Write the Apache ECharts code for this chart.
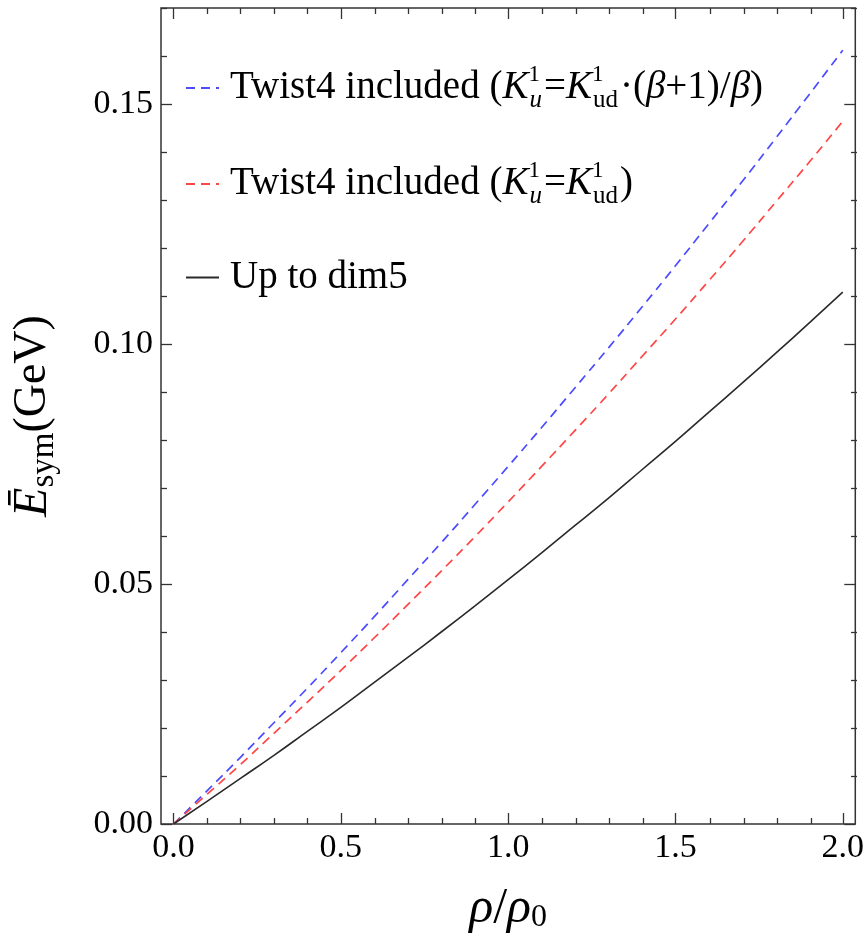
<!DOCTYPE html>
<html>
<head>
<meta charset="utf-8">
<script src="https://cdn.jsdelivr.net/npm/echarts@6/dist/echarts.min.js"></script>
<style>html,body{margin:0;padding:0;background:#fff}#c{width:867px;height:939px}</style>
</head>
<body>
<div id="c"></div>
<script>
// rho/rho0 sample points
const rho = [0,0.1,0.2,0.3,0.4,0.5,0.6,0.7,0.8,0.9,1.0,1.1,1.2,1.3,1.4,1.5,1.6,1.7,1.8,1.9,2.0];
// Twist4 included (K_u = K_ud (beta+1)/beta)  -- blue dashed
const twistBeta = [0,0.0069,0.0139,0.0211,0.0283,0.0357,0.0432,0.0509,0.0586,0.0665,0.0745,0.0826,0.0909,0.0992,0.1077,0.1163,0.1251,0.1339,0.1429,0.1520,0.1612];
// Twist4 included (K_u = K_ud)  -- red dashed
const twistEq = [0,0.0062,0.0124,0.0189,0.0254,0.0320,0.0388,0.0457,0.0527,0.0598,0.0671,0.0745,0.0820,0.0896,0.0974,0.1052,0.1132,0.1213,0.1296,0.1379,0.1464];
// Up to dim5 -- black solid
const dim5 = [0,0.0047,0.0095,0.0143,0.0193,0.0243,0.0295,0.0347,0.0400,0.0454,0.0509,0.0565,0.0622,0.0679,0.0738,0.0797,0.0858,0.0919,0.0981,0.1044,0.1108];

const xMajor = [0,0.5,1.0,1.5,2.0];
const xMinor = [0.1,0.2,0.3,0.4,0.6,0.7,0.8,0.9,1.1,1.2,1.3,1.4,1.6,1.7,1.8,1.9];
const yMajor = [0,0.05,0.10,0.15];
const yMinor = [0.01,0.02,0.03,0.04,0.06,0.07,0.08,0.09,0.11,0.12,0.13,0.14,0.16,0.17];

const names = [
  'Twist4 included (Ku=Kud(b+1)/b)',
  'Twist4 included (Ku=Kud)',
  'Up to dim5'
];

const FONT = 'Liberation Serif';
const AX = '#333';
const XMIN = -0.0375, XMAX = 2.0375, YMIN = 0, YMAX = 0.17;

function pairs(ys){ return rho.map((x,i)=>[x, ys[i]]); }

function xAx(grid, pos, values, len, labels){
  return {
    type:'value', gridIndex:grid, position:pos, min:XMIN, max:XMAX,
    axisLine:{show:false, onZero:false},
    splitLine:{show:false},
    axisTick:{show:true, inside:true, length:len, customValues:values, lineStyle:{color:AX, width:1.3}},
    axisLabel: labels ? {show:true, customValues:xMajor, margin:7, formatter:v=>v.toFixed(1),
      fontFamily:FONT, fontSize:34, color:'#000'} : {show:false}
  };
}
function yAx(grid, pos, values, len, labels){
  return {
    type:'value', gridIndex:grid, position:pos, min:YMIN, max:YMAX,
    axisLine:{show:false, onZero:false},
    splitLine:{show:false},
    axisTick:{show:true, inside:true, length:len, customValues:values, lineStyle:{color:AX, width:1.3}},
    axisLabel: labels ? {show:true, customValues:yMajor, margin:8, formatter:v=>v.toFixed(2),
      fontFamily:FONT, fontSize:34, color:'#000'} : {show:false}
  };
}

const xAxes = [
  xAx(0, 'bottom', xMajor, 11, true), xAx(0, 'top', xMajor, 11, false),
  xAx(1, 'bottom', xMinor, 6, false), xAx(1, 'top', xMinor, 6, false)
];
xAxes[0].name = '{r|ρ}{n|/}{r|ρ}{s|0}';
xAxes[0].nameLocation = 'middle';
xAxes[0].nameGap = 60;
xAxes[0].nameTextStyle = {fontFamily:FONT, color:'#000', rich:{
  r:{fontFamily:FONT, fontStyle:'italic', fontSize:50, color:'#000'},
  n:{fontFamily:FONT, fontSize:50, color:'#000'},
  s:{fontFamily:FONT, fontSize:32, color:'#000', verticalAlign:'bottom', lineHeight:50}
}};

const yAxes = [
  yAx(0, 'left', yMajor, 11, true), yAx(0, 'right', yMajor, 11, false),
  yAx(1, 'left', yMinor, 6, false), yAx(1, 'right', yMinor, 6, false)
];
yAxes[0].name = '{e|Ē}{s|sym}{n|(GeV)}';
yAxes[0].nameLocation = 'middle';
yAxes[0].nameRotate = 90;
yAxes[0].nameGap = 100;
yAxes[0].nameTextStyle = {fontFamily:FONT, color:'#000', rich:{
  e:{fontFamily:FONT, fontStyle:'italic', fontSize:48, color:'#000'},
  s:{fontFamily:FONT, fontSize:33, color:'#000', verticalAlign:'bottom', lineHeight:56},
  n:{fontFamily:FONT, fontSize:46, color:'#000'}
}};

const LF = 39;
const legendRich = {
  t:{fontFamily:FONT, fontSize:LF, color:'#000', lineHeight:50},
  i:{fontFamily:FONT, fontStyle:'italic', fontSize:LF, color:'#000', lineHeight:50},
  sup:{fontFamily:FONT, fontSize:23, color:'#000', verticalAlign:'top', lineHeight:50, width:1},
  sub:{fontFamily:FONT, fontStyle:'italic', fontSize:25, color:'#000', verticalAlign:'bottom', lineHeight:44, padding:[0,2,0,0]},
  subu:{fontFamily:FONT, fontSize:25, color:'#000', verticalAlign:'bottom', lineHeight:44, padding:[0,2,0,0]}
};
const legendText = {};
legendText[names[0]] = '{t|Twist4 included (}{i|K}{sup|1}{sub|u}{t|=}{i|K}{sup|1}{subu|ud}{t|·(}{i|β}{t|+1)/}{i|β}{t|)}';
legendText[names[1]] = '{t|Twist4 included (}{i|K}{sup|1}{sub|u}{t|=}{i|K}{sup|1}{subu|ud}{t|)}';
legendText[names[2]] = '{t|Up to dim5}';

function leg(name, top){
  return {
    data:[name], left:180, top:top, orient:'vertical',
    itemWidth:33, itemHeight:14, itemGap:0, selectedMode:false,
    itemStyle:{opacity:0},
    formatter:n=>legendText[n],
    textStyle:{rich:legendRich, padding:[0,0,0,6]}
  };
}

const colors = ['#4b4bff','#ff4646','#2a2a2a'];
const series = [
  {name:names[0], type:'line', data:pairs(twistBeta), showSymbol:false, symbol:'none', smooth:true,
    lineStyle:{color:colors[0], width:1.7, type:[9,6]}, itemStyle:{color:colors[0]}, z:3},
  {name:names[1], type:'line', data:pairs(twistEq), showSymbol:false, symbol:'none', smooth:true,
    lineStyle:{color:colors[1], width:1.7, type:[9,6]}, itemStyle:{color:colors[1]}, z:3},
  {name:names[2], type:'line', data:pairs(dim5), showSymbol:false, symbol:'none', smooth:true,
    lineStyle:{color:colors[2], width:1.6}, itemStyle:{color:colors[2]}, z:3}
];

const chart = echarts.init(document.getElementById('c'), null, {renderer:'canvas'});
chart.setOption({
  animation:false,
  backgroundColor:'#fff',
  grid:[
    {left:161, right:10, top:8, bottom:115, show:true, borderColor:AX, borderWidth:1.5, backgroundColor:'transparent'},
    {left:161, right:10, top:8, bottom:115, show:false}
  ],
  xAxis:xAxes,
  yAxis:yAxes,
  legend:[leg(names[0], 58), leg(names[1], 154), leg(names[2], 253)],
  series:series
});
</script>
</body>
</html>
